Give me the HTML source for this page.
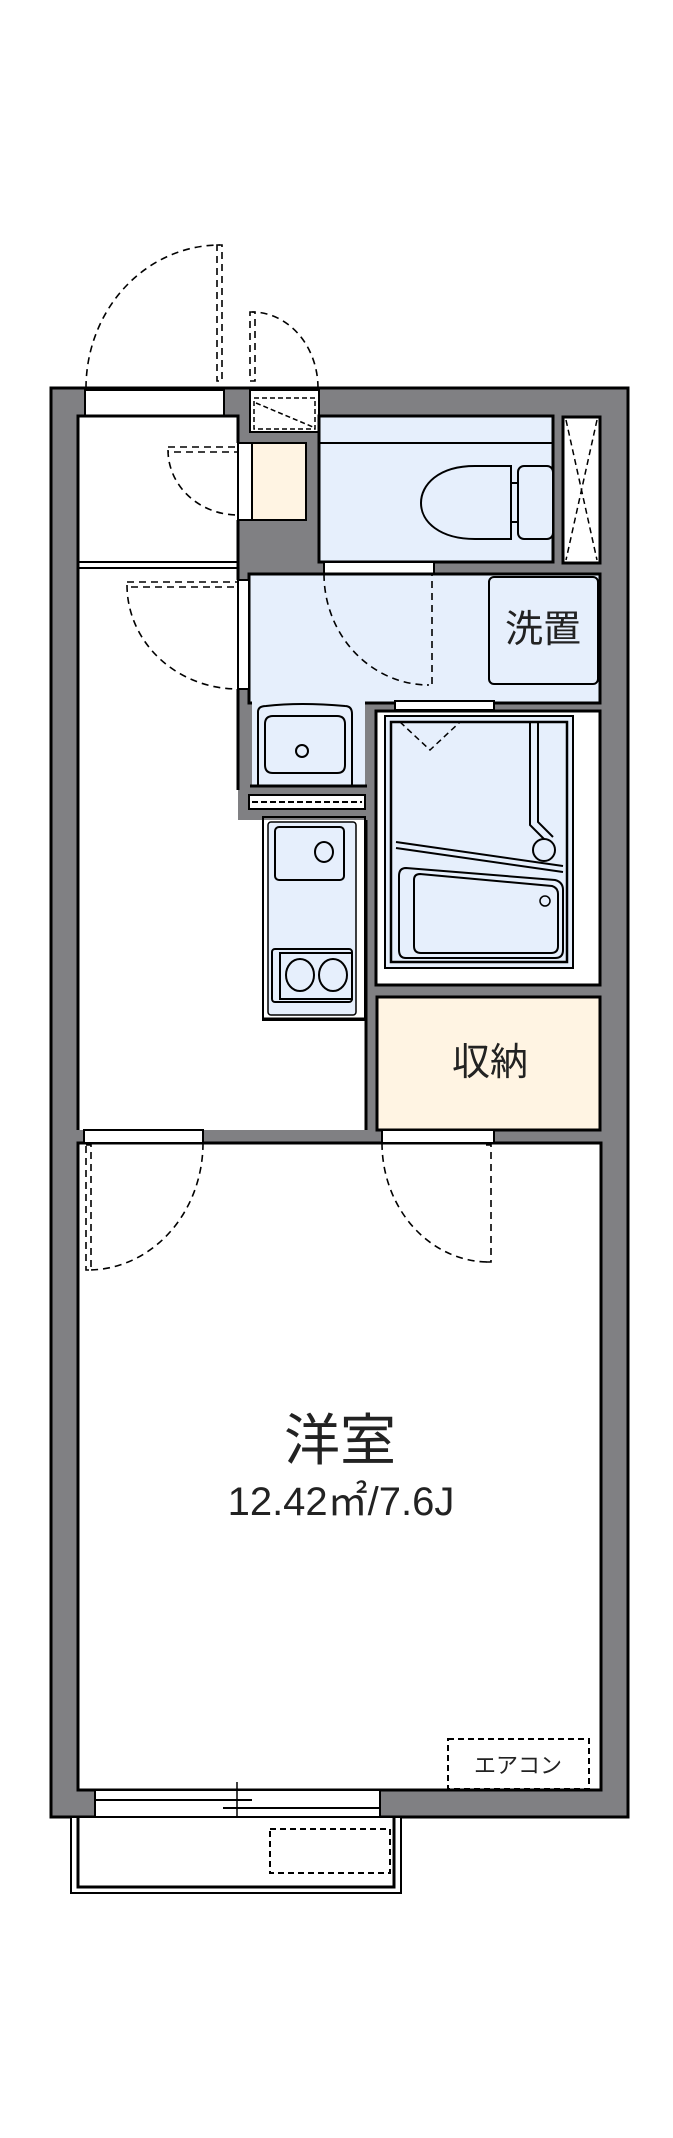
<!DOCTYPE html>
<html><head><meta charset="utf-8"><style>
html,body{margin:0;padding:0;background:#fff;}
svg{display:block;}
text{font-family:"Liberation Sans","Noto Sans CJK JP",sans-serif;fill:#222;}
</style></head><body>
<svg width="673" height="2138" viewBox="0 0 673 2138" xmlns="http://www.w3.org/2000/svg">
<rect x="51" y="388" width="577" height="1429" fill="#808083" stroke="#000" stroke-width="3"/>
<rect x="85" y="390" width="139" height="26" fill="#fff" stroke="#000" stroke-width="2"/>
<!-- left white zone -->
<path d="M78 1130 L78 416 L238 416 L238 820 L263 820 L263 1130 Z" fill="#fff"/>
<rect x="238" y="820" width="128" height="310" fill="#fff"/>
<path d="M78 1130 L78 416 L238 416 L238 443" fill="none" stroke="#000" stroke-width="3"/>
<path d="M238 520 L238 580 M238 689 L238 790" fill="none" stroke="#000" stroke-width="3"/>
<line x1="366" y1="820" x2="366" y2="1130" stroke="#000" stroke-width="3"/>
<line x1="78" y1="562" x2="238" y2="562" stroke="#000" stroke-width="2"/>
<line x1="78" y1="568" x2="238" y2="568" stroke="#000" stroke-width="2"/>
<!-- meter box -->
<rect x="250" y="390" width="69" height="42" fill="#fff" stroke="#000" stroke-width="2"/>
<rect x="254" y="398" width="61" height="31" fill="none" stroke="#000" stroke-width="1.5" stroke-dasharray="5,3"/>
<line x1="256" y1="403" x2="313" y2="427" stroke="#000" stroke-width="1.5" stroke-dasharray="5,3"/>
<!-- cream box -->
<rect x="238" y="443" width="14" height="77" fill="#fff" stroke="#000" stroke-width="2"/>
<rect x="252" y="443" width="54" height="77" fill="#fff4e3" stroke="#000" stroke-width="2"/>
<!-- toilet -->
<rect x="319" y="416" width="234" height="146" fill="#e6effc" stroke="#000" stroke-width="3"/>
<line x1="319" y1="443" x2="553" y2="443" stroke="#000" stroke-width="2"/>
<path d="M511 466 L 475 466 C 438 466 421 485 421 503 C 421 522 440 539 475 539 L 511 539 Z" fill="#e6effc" stroke="#000" stroke-width="2"/>
<rect x="518" y="466" width="35" height="73" rx="6" fill="#e6effc" stroke="#000" stroke-width="2"/>
<line x1="511" y1="483" x2="518" y2="483" stroke="#000" stroke-width="2"/>
<line x1="511" y1="522" x2="518" y2="522" stroke="#000" stroke-width="2"/>
<!-- pipe space -->
<rect x="563" y="417" width="37" height="146" fill="#fff" stroke="#000" stroke-width="3"/>
<path d="M566 420 L597 560 M597 420 L566 560" stroke="#000" stroke-width="1.5" stroke-dasharray="6,4" fill="none"/>
<rect x="324" y="562" width="110" height="12" fill="#fff" stroke="#000" stroke-width="2"/>
<!-- washroom -->
<rect x="249" y="574" width="351" height="129" fill="#e6effc" stroke="#000" stroke-width="3"/>
<rect x="238" y="580" width="11" height="109" fill="#fff" stroke="#000" stroke-width="2"/>
<rect x="489" y="577" width="109" height="107" rx="5" fill="#e6effc" stroke="#000" stroke-width="2"/>
<text x="543" y="642" font-size="38" text-anchor="middle">洗置</text>
<!-- washbasin -->
<rect x="252" y="701" width="113" height="86" fill="#e6effc"/>
<path d="M258 785 L258 712 Q258 706 266 706 Q300 702 345 706 Q352 706 352 714 L352 785" fill="none" stroke="#000" stroke-width="2"/>
<path d="M265 724 Q265 716 273 716 L337 716 Q345 716 345 724 L345 765 Q345 773 337 773 L273 773 Q265 773 265 765 Z" fill="none" stroke="#000" stroke-width="2"/>
<circle cx="302" cy="751" r="6" fill="none" stroke="#000" stroke-width="2"/>
<line x1="250" y1="786" x2="367" y2="786" stroke="#000" stroke-width="3"/>
<rect x="249" y="795" width="116" height="14" fill="#fff" stroke="#000" stroke-width="2"/>
<line x1="252" y1="802" x2="362" y2="802" stroke="#000" stroke-width="2" stroke-dasharray="6,3"/>
<!-- bathroom -->
<rect x="376" y="711" width="224" height="274" fill="#fff" stroke="#000" stroke-width="3"/>
<rect x="395" y="701" width="99" height="9" fill="#fff" stroke="#000" stroke-width="2"/>
<rect x="385" y="716" width="188" height="252" fill="#e6effc" stroke="#000" stroke-width="2"/>
<rect x="391" y="722" width="176" height="240" fill="none" stroke="#000" stroke-width="2.5"/>
<path d="M400 722 L430 750 L460 722" fill="none" stroke="#000" stroke-width="1.5" stroke-dasharray="6,4"/>
<path d="M530 722 L530 825 L545 840 M538 722 L538 822 L553 837" fill="none" stroke="#000" stroke-width="2"/>
<line x1="396" y1="842" x2="563" y2="866" stroke="#000" stroke-width="2"/>
<line x1="396" y1="848" x2="563" y2="872" stroke="#000" stroke-width="2"/>
<circle cx="544" cy="850" r="11" fill="#e6effc" stroke="#000" stroke-width="2"/>
<path d="M406 868 L555 880 Q563 882 563 890 L563 950 Q563 958 555 958 L406 958 Q399 958 399 950 L399 876 Q399 868 406 868 Z" fill="none" stroke="#000" stroke-width="2"/>
<path d="M420 874 L552 886 Q558 888 558 894 L558 946 Q558 953 551 953 L421 953 Q414 953 414 946 L414 880 Q414 874 420 874 Z" fill="none" stroke="#000" stroke-width="2"/>
<circle cx="545" cy="901" r="5" fill="none" stroke="#000" stroke-width="1.5"/>
<!-- kitchen -->
<rect x="263" y="817" width="102" height="203" fill="none" stroke="#000" stroke-width="2"/>
<rect x="268" y="822" width="88" height="193" rx="3" fill="#e6effc" stroke="#000" stroke-width="1.5"/>
<rect x="275" y="827" width="69" height="53" rx="4" fill="#e6effc" stroke="#000" stroke-width="2"/>
<ellipse cx="324" cy="852" rx="9" ry="10" fill="none" stroke="#000" stroke-width="2"/>
<rect x="272" y="949" width="80" height="53" rx="3" fill="none" stroke="#000" stroke-width="2"/>
<rect x="280" y="953" width="72" height="46" fill="none" stroke="#000" stroke-width="2"/>
<ellipse cx="300" cy="975" rx="14" ry="16" fill="none" stroke="#000" stroke-width="2"/>
<ellipse cx="333" cy="975" rx="14" ry="16" fill="none" stroke="#000" stroke-width="2"/>
<line x1="262" y1="1019" x2="366" y2="1019" stroke="#000" stroke-width="3"/>
<!-- storage -->
<rect x="377" y="997" width="223" height="133" fill="#fff4e3" stroke="#000" stroke-width="3"/>
<text x="490" y="1075" font-size="38" text-anchor="middle">収納</text>
<!-- main room -->
<rect x="78" y="1143" width="523" height="647" fill="#fff" stroke="#000" stroke-width="3"/>
<rect x="84" y="1130" width="119" height="13" fill="#fff" stroke="#000" stroke-width="2"/>
<rect x="382" y="1130" width="112" height="13" fill="#fff" stroke="#000" stroke-width="2"/>
<text x="340" y="1460" font-size="56" text-anchor="middle">洋室</text>
<text x="341" y="1515" font-size="40" text-anchor="middle">12.42㎡/7.6J</text>
<rect x="448" y="1739" width="141" height="50" fill="none" stroke="#000" stroke-width="2" stroke-dasharray="6,4"/>
<text x="518" y="1773" font-size="22" text-anchor="middle">エアコン</text>
<!-- window -->
<rect x="95" y="1790" width="285" height="27" fill="#fff" stroke="#000" stroke-width="2"/>
<line x1="95" y1="1800" x2="252" y2="1800" stroke="#000" stroke-width="2"/>
<line x1="223" y1="1808" x2="380" y2="1808" stroke="#000" stroke-width="2"/>
<line x1="237" y1="1782" x2="237" y2="1826" stroke="#000" stroke-width="1.5"/>
<!-- balcony -->
<rect x="71" y="1817" width="330" height="76" fill="#fff" stroke="#000" stroke-width="2"/>
<path d="M78 1817 L78 1887 L394 1887 L394 1817" fill="none" stroke="#000" stroke-width="3"/>
<rect x="270" y="1829" width="120" height="44" fill="none" stroke="#000" stroke-width="2" stroke-dasharray="6,4"/>
<!-- doors -->
<g fill="none" stroke="#000" stroke-width="1.6" stroke-dasharray="7,5">
<path d="M86 388 A 134 143 0 0 1 220 245"/>
<path d="M217 245 L222 245 L222 381 L217 381 Z"/>
<path d="M318 388 A 66 76 0 0 0 252 312"/>
<path d="M250 312 L255 312 L255 381 L250 381 Z"/>
<path d="M168 450 A 70 65 0 0 0 238 515"/>
<path d="M168 447 L238 447 L238 452 L168 452"/>
<path d="M127 585 A 111 104 0 0 0 238 689"/>
<path d="M127 582 L238 582 L238 587 L127 587"/>
<path d="M324 574 A 105 111 0 0 0 429 685"/>
<path d="M427 574 L432 574 L432 685 L427 685"/>
<path d="M203 1143 A 115 127 0 0 1 88 1270"/>
<path d="M86 1145 L91 1145 L91 1270 L86 1270 Z"/>
<path d="M382 1143 A 107 119 0 0 0 489 1262"/>
<path d="M486 1145 L491 1145 L491 1262 L486 1262"/>
</g>
</svg>
</body></html>
